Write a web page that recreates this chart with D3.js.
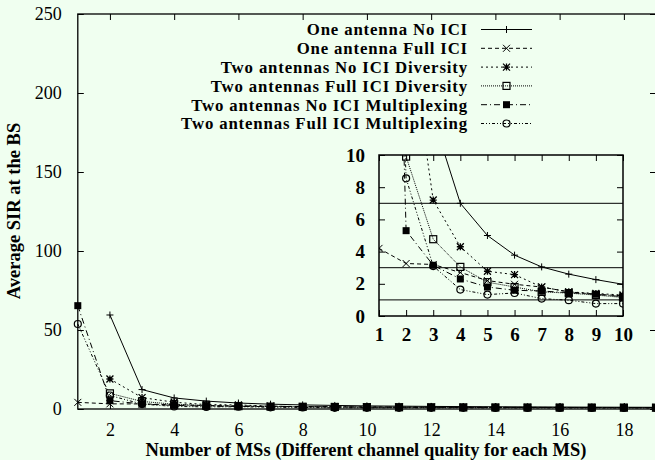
<!DOCTYPE html>
<html>
<head>
<meta charset="utf-8">
<script src="https://cdn.jsdelivr.net/npm/d3@7"></script>
<style>
  html, body { margin: 0; padding: 0; background: #f0fff0; }
  svg { display: block; }
  text { font-family: "Liberation Serif", "Times New Roman", serif; fill: #000; }
</style>
</head>
<body>
<div id="chart"></div>
<script>
// number of MSs on the x axis
const msCounts = [1, 2, 3, 4, 5, 6, 7, 8, 9, 10, 11, 12, 13, 14, 15, 16, 17, 18, 19];

// average SIR values (null = not plotted)
const oneNoIci      = [null, 59.5, 12.3, 7.0, 5.0, 3.78, 3.05, 2.6, 2.26, 1.97, 1.8, 1.65, 1.52, 1.42, 1.33, 1.25, 1.18, 1.12, 1.07];
const oneFullIci    = [4.2, 3.26, 3.2, 2.7, 2.2, 1.97, 1.8, 1.5, 1.35, 1.25, 1.17, 1.1, 1.05, 1.0, 0.96, 0.93, 0.9, 0.88, 0.85];
const twoNoIciDiv   = [null, 19.0, 7.2, 4.3, 2.78, 2.57, 1.8, 1.5, 1.4, 1.3, 1.22, 1.16, 1.1, 1.05, 1.01, 0.97, 0.94, 0.92, 0.9];
const twoFullIciDiv = [null, 9.9, 4.77, 3.05, 2.1, 1.8, 1.5, 1.42, 1.3, 1.15, 1.1, 1.05, 1.0, 0.97, 0.94, 0.92, 0.9, 0.88, 0.86];
const twoNoIciMux   = [65.4, 5.3, 3.15, 2.3, 1.8, 1.6, 1.55, 1.45, 1.35, 1.2, 1.15, 1.1, 1.05, 1.0, 0.97, 0.95, 0.93, 0.9, 0.88];
const twoFullIciMux = [53.8, 8.55, 3.1, 1.64, 1.33, 1.43, 1.08, 0.98, 0.77, 0.77, 0.76, 0.74, 0.72, 0.7, 0.68, 0.66, 0.65, 0.63, 0.62];

const seriesNames = [
  "One antenna No ICI",
  "One antenna Full ICI",
  "Two antennas No ICI Diversity",
  "Two antennas Full ICI Diversity",
  "Two antennas No ICI Multiplexing",
  "Two antennas Full ICI Multiplexing"
];

// tick labels
const mainYTicks = [0, 50, 100, 150, 200, 250];
const mainXTicks = [2, 4, 6, 8, 10, 12, 14, 16, 18];
const insetXTicks = [1, 2, 3, 4, 5, 6, 7, 8, 9, 10];
const insetYTicks = [0, 2, 4, 6, 8, 10];
const insetRefLines = [7, 3, 1];

const bg = "#f0fff0";
const W = 655, H = 460;

// build series objects
const allValues = [oneNoIci, oneFullIci, twoNoIciDiv, twoFullIciDiv, twoNoIciMux, twoFullIciMux];
const styles = [
  {dash: null,            marker: "plus"},
  {dash: "4,3",           marker: "cross"},
  {dash: "2,3",           marker: "star"},
  {dash: "1,1",           marker: "box"},
  {dash: "6,3,1,3",       marker: "fbox"},
  {dash: "3,2,1,2,1,2",   marker: "circle"}
];
const series = seriesNames.map((name, i) => ({
  name: name,
  style: styles[i],
  points: msCounts.map((m, j) => ({x: m, y: allValues[i][j]})).filter(p => p.y != null)
}));

const svg = d3.select("#chart").append("svg")
  .attr("width", W).attr("height", H)
  .style("background", bg);

// draw a marker of given type into a selection
function drawMarker(sel, type) {
  const s = 3.5;
  if (type === "plus") {
    sel.append("path").attr("d", `M${-s},0H${s}M0,${-s}V${s}`).attr("stroke", "#000").attr("fill", "none");
  } else if (type === "cross") {
    sel.append("path").attr("d", `M${-s},${-s}L${s},${s}M${-s},${s}L${s},${-s}`).attr("stroke", "#000").attr("fill", "none");
  } else if (type === "star") {
    sel.append("path").attr("d", `M${-s},0H${s}M0,${-s}V${s}M${-s},${-s}L${s},${s}M${-s},${s}L${s},${-s}`)
      .attr("stroke", "#000").attr("stroke-width", 1.3).attr("fill", "none");
  } else if (type === "box") {
    sel.append("rect").attr("x", -s).attr("y", -s).attr("width", 2 * s).attr("height", 2 * s)
      .attr("fill", "none").attr("stroke", "#000").attr("stroke-width", 1.2);
  } else if (type === "fbox") {
    sel.append("rect").attr("x", -s).attr("y", -s).attr("width", 2 * s).attr("height", 2 * s)
      .attr("fill", "#000");
  } else if (type === "circle") {
    sel.append("circle").attr("r", s).attr("fill", "none").attr("stroke", "#000").attr("stroke-width", 1.2);
  }
}

// draws all series into g with scales x, y
function drawSeries(g, x, y) {
  const line = d3.line().x(d => x(d.x)).y(d => y(d.y));
  series.forEach(s => {
    g.append("path").datum(s.points)
      .attr("d", line)
      .attr("fill", "none")
      .attr("stroke", "#000")
      .attr("stroke-width", 1)
      .attr("stroke-dasharray", s.style.dash);
    g.selectAll(null).data(s.points).enter().append("g")
      .attr("transform", d => `translate(${x(d.x)},${y(d.y)})`)
      .each(function () { drawMarker(d3.select(this), s.style.marker); });
  });
}

// ---------- main plot ----------
const m = {l: 77.8, t: 14, r: 656, b: 409};
const x = d3.scaleLinear().domain([1, 19]).range([m.l, m.r]);
const y = d3.scaleLinear().domain([0, 250]).range([m.b, m.t]);

const main = svg.append("g");
drawSeries(main, x, y);

// frame
main.append("rect").attr("x", m.l).attr("y", m.t)
  .attr("width", m.r - m.l).attr("height", m.b - m.t)
  .attr("fill", "none").attr("stroke", "#000").attr("stroke-width", 1.3);

// axes with inward ticks
main.append("g").attr("transform", `translate(0,${m.b})`)
  .call(d3.axisBottom(x).tickValues(mainXTicks).tickSize(-6).tickPadding(14))
  .call(g => g.select(".domain").remove())
  .selectAll("text").attr("font-size", 18);
main.append("g").attr("transform", `translate(0,${m.t})`)
  .call(d3.axisTop(x).tickValues(mainXTicks).tickSize(-6).tickFormat(""))
  .call(g => g.select(".domain").remove());
main.append("g").attr("transform", `translate(${m.l},0)`)
  .call(d3.axisLeft(y).tickValues(mainYTicks).tickSize(-6).tickPadding(16))
  .call(g => g.select(".domain").remove())
  .selectAll("text").attr("font-size", 18);
main.append("g").attr("transform", `translate(${m.r},0)`)
  .call(d3.axisRight(y).tickValues(mainYTicks).tickSize(-6).tickFormat(""))
  .call(g => g.select(".domain").remove());

// axis titles
svg.append("text")
  .attr("x", 366).attr("y", 456)
  .attr("text-anchor", "middle")
  .attr("font-weight", "bold").attr("font-size", 18.5)
  .text("Number of MSs (Different channel quality for each MS)");
svg.append("text")
  .attr("transform", "translate(20,211) rotate(-90)")
  .attr("text-anchor", "middle")
  .attr("font-weight", "bold").attr("font-size", 18.5)
  .text("Average SIR at the BS");

// ---------- legend ----------
const legend = svg.append("g");
const legRows = legend.selectAll("g").data(series).enter().append("g")
  .attr("transform", (d, i) => `translate(0,${29.5 + i * 18.8})`);
legRows.append("text")
  .attr("x", 468).attr("dy", "0.35em")
  .attr("text-anchor", "end")
  .attr("font-weight", "bold").attr("font-size", 16.8)
  .attr("letter-spacing", "0.85px")
  .text(d => d.name);
legRows.append("line")
  .attr("x1", 481).attr("x2", 532)
  .attr("stroke", "#000").attr("stroke-width", 1)
  .attr("stroke-dasharray", d => d.style.dash);
legRows.append("g").attr("transform", "translate(506.5,0)")
  .each(function (d) { drawMarker(d3.select(this), d.style.marker); });

// ---------- inset ----------
const ins = {l: 379, t: 155, r: 623, b: 316};
const xi = d3.scaleLinear().domain([1, 10]).range([ins.l, ins.r]);
const yi = d3.scaleLinear().domain([0, 10]).range([ins.b, ins.t]);

const inset = svg.append("g");
inset.append("rect").attr("x", ins.l).attr("y", ins.t)
  .attr("width", ins.r - ins.l).attr("height", ins.b - ins.t)
  .attr("fill", bg);

svg.append("defs").append("clipPath").attr("id", "insetClip")
  .append("rect").attr("x", ins.l).attr("y", ins.t)
  .attr("width", ins.r - ins.l).attr("height", ins.b - ins.t);

const insetPlot = inset.append("g").attr("clip-path", "url(#insetClip)");
insetPlot.selectAll("line.ref").data(insetRefLines).enter().append("line")
  .attr("class", "ref")
  .attr("x1", ins.l).attr("x2", ins.r)
  .attr("y1", d => yi(d)).attr("y2", d => yi(d))
  .attr("stroke", "#000").attr("stroke-width", 1);
drawSeries(insetPlot, xi, yi);

inset.append("rect").attr("x", ins.l).attr("y", ins.t)
  .attr("width", ins.r - ins.l).attr("height", ins.b - ins.t)
  .attr("fill", "none").attr("stroke", "#000").attr("stroke-width", 1.5);

inset.append("g").attr("transform", `translate(0,${ins.b})`)
  .call(d3.axisBottom(xi).tickValues(insetXTicks).tickSize(-6).tickPadding(12))
  .call(g => g.select(".domain").remove())
  .selectAll("text").attr("font-size", 19).attr("font-weight", "bold");
inset.append("g").attr("transform", `translate(0,${ins.t})`)
  .call(d3.axisTop(xi).tickValues(insetXTicks).tickSize(-6).tickFormat(""))
  .call(g => g.select(".domain").remove());
inset.append("g").attr("transform", `translate(${ins.l},0)`)
  .call(d3.axisLeft(yi).tickValues(insetYTicks).tickSize(-6).tickPadding(14))
  .call(g => g.select(".domain").remove())
  .selectAll("text").attr("font-size", 19).attr("font-weight", "bold");
inset.append("g").attr("transform", `translate(${ins.r},0)`)
  .call(d3.axisRight(yi).tickValues(insetYTicks).tickSize(-6).tickFormat(""))
  .call(g => g.select(".domain").remove());

svg.selectAll(".tick line").attr("stroke", "#000");
</script>
</body>
</html>
